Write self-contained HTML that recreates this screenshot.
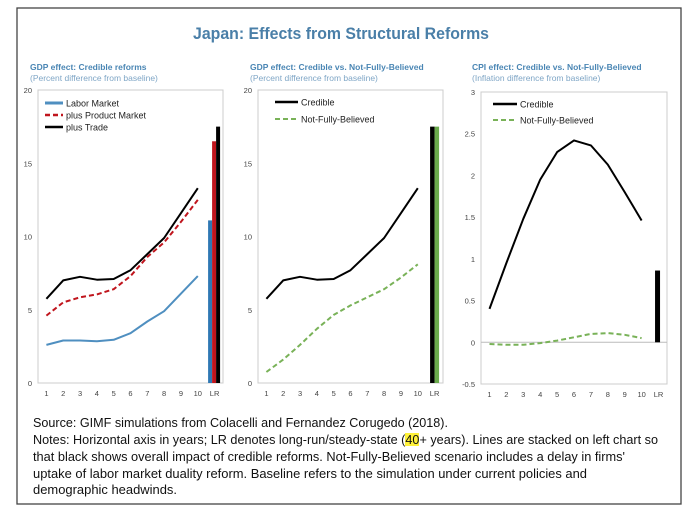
<!DOCTYPE html>
<html><head><meta charset="utf-8"><style>
html,body{margin:0;padding:0;background:#fff;}
svg{display:block;font-family:"Liberation Sans",sans-serif;}
</style></head><body>
<svg id="c" width="700" height="515" viewBox="0 0 700 515" xmlns="http://www.w3.org/2000/svg">
<rect x="17" y="8" width="664" height="496" fill="#fff" stroke="#444" stroke-width="1.3"/>
<text x="341" y="39" text-anchor="middle" font-size="17" font-weight="bold" fill="#4a7fa8" textLength="296" lengthAdjust="spacingAndGlyphs">Japan: Effects from Structural Reforms</text>
<g font-size="8.5" font-weight="bold" fill="#4a86b4">
<text x="30" y="70">GDP effect: Credible reforms</text>
<text x="250" y="70">GDP effect: Credible vs. Not-Fully-Believed</text>
<text x="472" y="70">CPI effect: Credible vs. Not-Fully-Believed</text>
</g>
<g font-size="8.5" fill="#7fa6c6">
<text x="30" y="81">(Percent difference from baseline)</text>
<text x="250" y="81">(Percent difference from baseline)</text>
<text x="472" y="81">(Inflation difference from baseline)</text>
</g>
<g id="plots"></g>
<rect x="405" y="433" width="14" height="13" fill="#fff23a"/>
<g font-size="12.5" fill="#111">
<text x="33" y="427" textLength="415" lengthAdjust="spacingAndGlyphs">Source: GIMF simulations from Colacelli and Fernandez Corugedo (2018).</text>
<text x="33" y="444" textLength="625" lengthAdjust="spacingAndGlyphs">Notes: Horizontal axis in years; LR denotes long-run/steady-state (40+ years). Lines are stacked on left chart so</text>
<text x="33" y="461" textLength="592" lengthAdjust="spacingAndGlyphs">that black shows overall impact of credible reforms. Not-Fully-Believed scenario includes a delay in firms'</text>
<text x="33" y="478" textLength="554" lengthAdjust="spacingAndGlyphs">uptake of labor market duality reform. Baseline refers to the simulation under current policies and</text>
<text x="33" y="494" textLength="144" lengthAdjust="spacingAndGlyphs">demographic headwinds.</text>
</g>
</svg>
<script>
const categories = ["1","2","3","4","5","6","7","8","9","10","LR"];
const p1Labor = [2.6,2.9,2.9,2.85,2.95,3.4,4.2,4.9,6.1,7.3];
const p1Product = [4.6,5.5,5.85,6.05,6.4,7.3,8.6,9.6,11.0,12.5];
const p1Trade = [5.75,7.0,7.25,7.05,7.1,7.7,8.8,9.9,11.6,13.3];
const p1LR = [11.1,16.5,17.5];
const p2Credible = [5.75,7.0,7.25,7.05,7.1,7.7,8.8,9.9,11.6,13.3];
const p2NFB = [0.75,1.6,2.6,3.7,4.65,5.3,5.85,6.4,7.2,8.1];
const p2LR = [17.5,17.5];
const p3Credible = [0.4,0.95,1.48,1.95,2.28,2.42,2.36,2.13,1.8,1.46];
const p3NFB = [-0.02,-0.03,-0.03,-0.01,0.02,0.06,0.1,0.11,0.09,0.05];
const p3LR = [0.86];
const gdpTicks = [0,5,10,15,20];
const cpiTicks = [-0.5,0,0.5,1,1.5,2,2.5,3];

const NS="http://www.w3.org/2000/svg";
const root=document.getElementById('plots');
function mk(tag,attrs,parent){const e=document.createElementNS(NS,tag);for(const k in attrs)e.setAttribute(k,attrs[k]);(parent||root).appendChild(e);return e;}

function panel(id,L,R,T,B,ymin,ymax,ticks,tickFmt,series,bars,legend){
  const g=mk('g',{});
  
  
  const band=(R-L)/categories.length;
  const x=i=>L+band*(i+0.5);
  const y=v=>B-(v-ymin)/(ymax-ymin)*(B-T);
  const fr=mk('rect',{x:L,y:T,width:R-L,height:B-T,fill:'none',stroke:'#ccc','stroke-width':1},g);
  
  
  if(ymin<0){const z=mk('line',{x1:L,x2:R,y1:y(0),y2:y(0),stroke:'#bbb','stroke-width':1},g);
    
    }
  ticks.forEach(t=>{const tx=mk('text',{x:L-6,y:y(t)+3,'text-anchor':'end','font-size':7.5,fill:'#444'},g);tx.textContent=tickFmt(t);
    
    });
  categories.forEach((c,i)=>{const tx=mk('text',{x:x(i),y:B+13,'text-anchor':'middle','font-size':7.5,fill:'#444'},g);tx.textContent=c;
    
    });
  const lrc=x(categories.length-1);
  const bw=bars.width, n=bars.values.length;
  bars.values.forEach((v,k)=>{const bx=lrc-bw*n/2+bw*k+bars.shift;
    const y0=y(0),y1=y(v);
    const r=mk('rect',{x:bx,y:Math.min(y0,y1),width:bw,height:Math.abs(y0-y1),fill:bars.colors[k]},g);
    
    });
  series.forEach(s=>{const pts=s.data.map((v,i)=>x(i).toFixed(1)+','+y(v).toFixed(1)).join(' ');
    const p=mk('polyline',{points:pts,fill:'none',stroke:s.color,'stroke-width':s.w,'stroke-dasharray':s.dash||'none','stroke-linejoin':'round'},g);
    
    });
  legend.forEach(l=>{const lg=mk('g',{},g);
    
    
    mk('line',{x1:l.x1,x2:l.x2,y1:l.y,y2:l.y,stroke:l.color,'stroke-width':l.w,'stroke-dasharray':l.dash||'none'},lg);
    const t=mk('text',{x:l.x2+3,y:l.y+3.5,'font-size':9,fill:'#222'},lg);t.textContent=l.label;});
}
const f0=t=>String(t);
panel('panel1',38,223,90,383,0,20,gdpTicks,f0,
  [{name:'labor-line',data:p1Labor,color:'#4f8fc0',w:2},
   {name:'product-line',data:p1Product,color:'#c0151d',w:2,dash:'5,3'},
   {name:'trade-line',data:p1Trade,color:'#000',w:2}],
  {values:p1LR,colors:['#2f78b4','#c0151d','#000'],width:4,shift:-0.5},
  [{x1:45,x2:63,y:103,color:'#4f8fc0',w:3,label:'Labor Market'},
   {x1:45,x2:63,y:115,color:'#c0151d',w:2.5,dash:'5,3',label:'plus Product Market'},
   {x1:45,x2:63,y:127,color:'#000',w:2.5,label:'plus Trade'}]);
panel('panel2',258,443,90,383,0,20,gdpTicks,f0,
  [{name:'credible-line',data:p2Credible,color:'#000',w:2},
   {name:'not-fully-believed-line',data:p2NFB,color:'#79b258',w:2,dash:'5,3'}],
  {values:p2LR,colors:['#000','#6aaa4c'],width:4.5,shift:0},
  [{x1:275,x2:298,y:102,color:'#000',w:2.5,label:'Credible'},
   {x1:275,x2:298,y:119,color:'#79b258',w:2,dash:'5,3',label:'Not-Fully-Believed'}]);
panel('panel3',481,667,92,384,-0.5,3,cpiTicks,f0,
  [{name:'credible-line',data:p3Credible,color:'#000',w:2},
   {name:'not-fully-believed-line',data:p3NFB,color:'#79b258',w:2,dash:'5,3'}],
  {values:p3LR,colors:['#000'],width:5,shift:-1},
  [{x1:493,x2:517,y:104,color:'#000',w:2.5,label:'Credible'},
   {x1:493,x2:517,y:120,color:'#79b258',w:2,dash:'5,3',label:'Not-Fully-Believed'}]);
</script>
</body></html>
